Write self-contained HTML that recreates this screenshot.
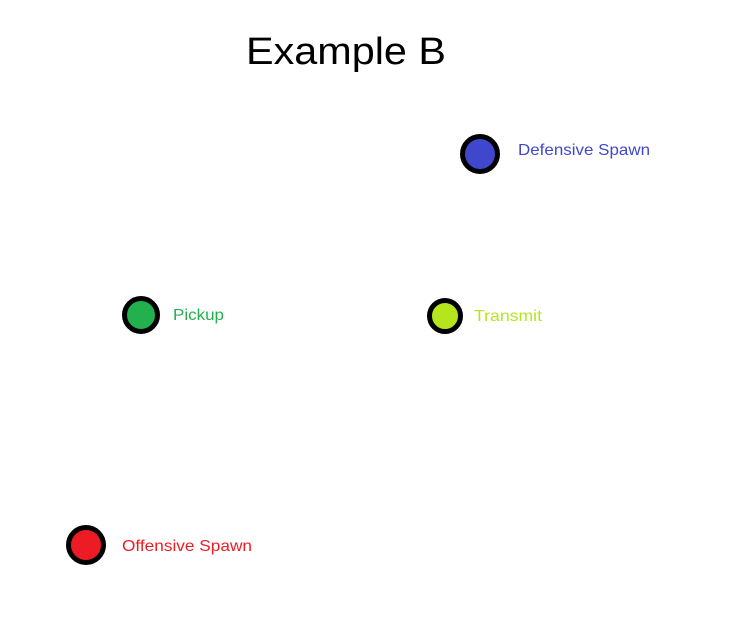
<!DOCTYPE html>
<html><head><meta charset="utf-8"><style>
html,body{margin:0;padding:0;background:#fff;}
body{width:734px;height:617px;overflow:hidden;}
</style></head><body>
<svg width="734" height="617" xmlns="http://www.w3.org/2000/svg" style="display:block">
<rect width="734" height="617" fill="#fff"/>
<text x="246" y="64" font-family="Liberation Sans, sans-serif" font-size="38" textLength="200" lengthAdjust="spacingAndGlyphs" fill="#000">Example B</text>
<circle cx="480" cy="154" r="17.5" fill="#3f48cc" stroke="#000" stroke-width="5"/>
<text x="518" y="155" font-family="Liberation Sans, sans-serif" font-size="16" textLength="132" lengthAdjust="spacingAndGlyphs" fill="#3f48cc">Defensive Spawn</text>
<circle cx="141" cy="315" r="16.5" fill="#22b14c" stroke="#000" stroke-width="5"/>
<text x="173" y="320" font-family="Liberation Sans, sans-serif" font-size="16" textLength="51" lengthAdjust="spacingAndGlyphs" fill="#22b14c">Pickup</text>
<circle cx="445" cy="316" r="15.5" fill="#b5e61d" stroke="#000" stroke-width="5"/>
<text x="474" y="321" font-family="Liberation Sans, sans-serif" font-size="16" textLength="68" lengthAdjust="spacingAndGlyphs" fill="#b5e61d">Transmit</text>
<circle cx="86" cy="545" r="17.5" fill="#ed1c24" stroke="#000" stroke-width="5"/>
<text x="122" y="551" font-family="Liberation Sans, sans-serif" font-size="16" textLength="130" lengthAdjust="spacingAndGlyphs" fill="#ed1c24">Offensive Spawn</text>
</svg>
</body></html>
